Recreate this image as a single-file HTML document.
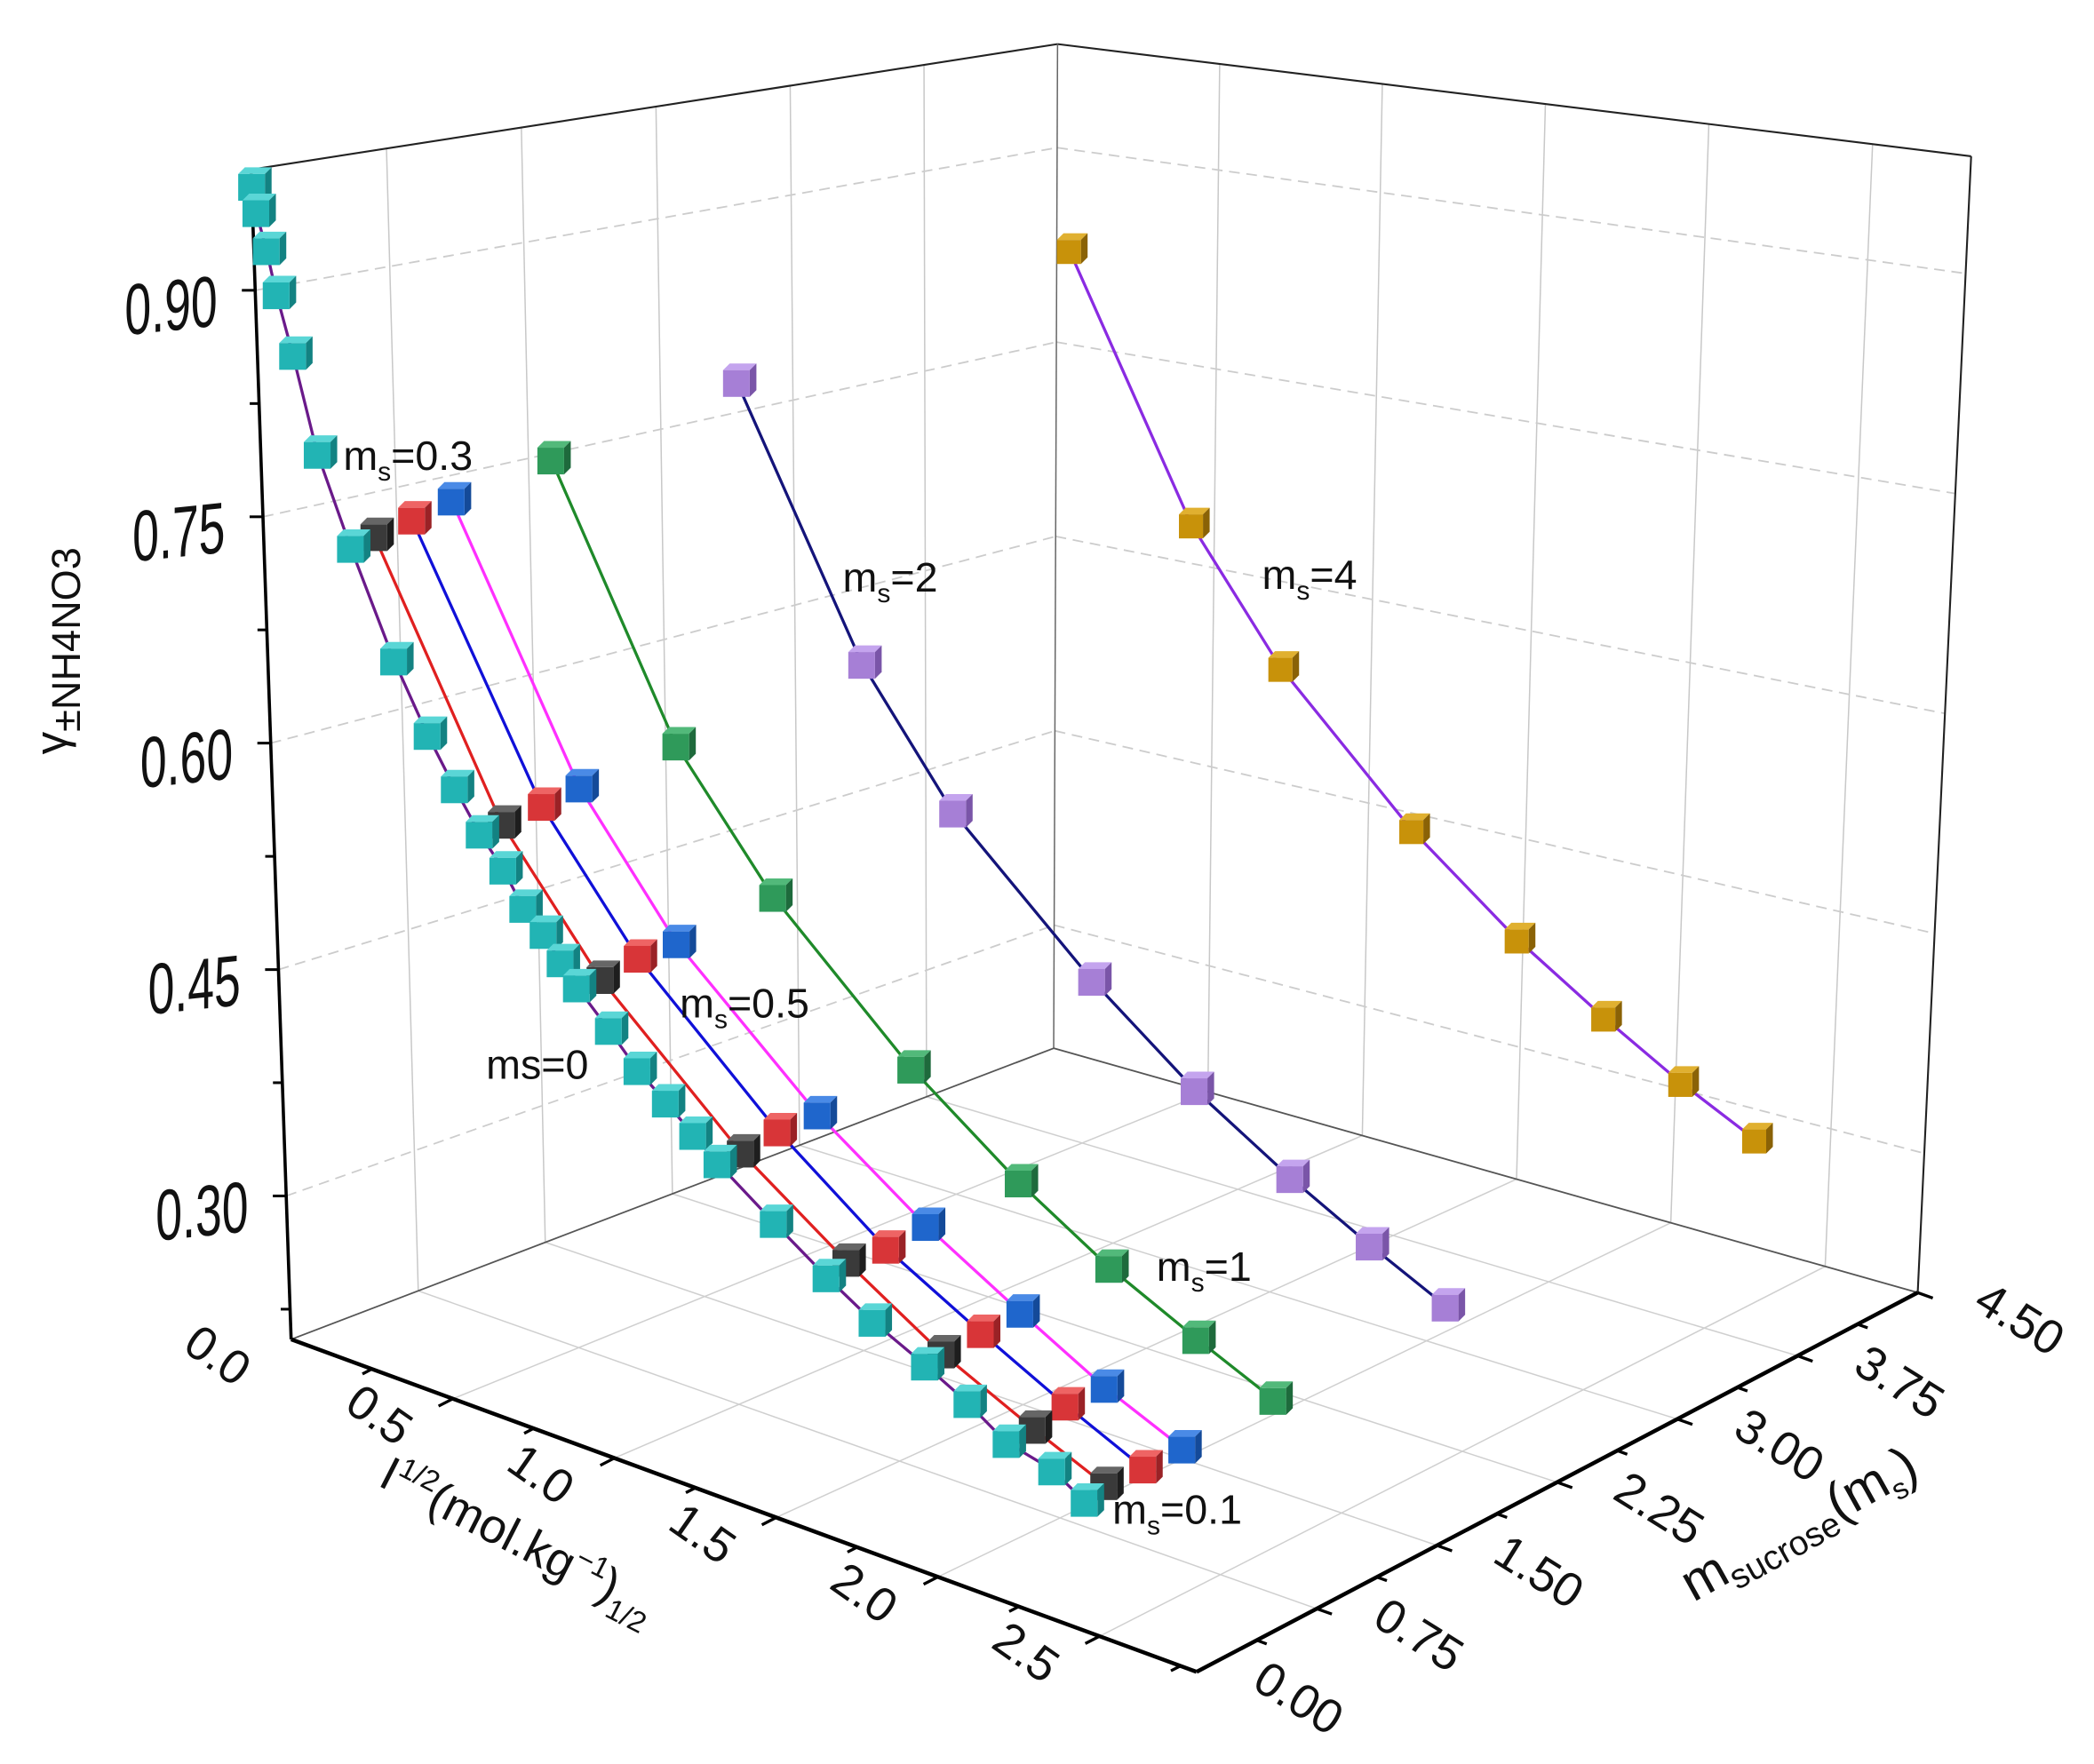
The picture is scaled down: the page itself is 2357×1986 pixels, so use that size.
<!DOCTYPE html>
<html><head><meta charset="utf-8"><style>
html,body{margin:0;padding:0;background:#fff}
svg{display:block}
text{font-family:"Liberation Sans",Arial,sans-serif;fill:#111}
</style></head><body>
<svg id="chart" width="2357" height="1986" viewBox="0 0 1568 1321" preserveAspectRatio="none" xmlns="http://www.w3.org/2000/svg">
<g id="grid"></g>
<g id="frame"></g>
<g id="series"></g>
<g id="labels"></g>
</svg>
<script>
// ---- data ----
const seriesMs = [4, 2, 1, 0.5, 0.3, 0.1, 0];
const xTicks = [0.0, 0.5, 1.0, 1.5, 2.0, 2.5];
const xTickLabels = ["0.0", "0.5", "1.0", "1.5", "2.0", "2.5"];
const mTicks = [0, 0.75, 1.5, 2.25, 3.0, 3.75, 4.5];
const mTickLabels = ["0.00", "0.75", "1.50", "2.25", "3.00", "3.75", "4.50"];
const gTicks = [0.30, 0.45, 0.60, 0.75, 0.90];
const gTickLabels = ["0.30", "0.45", "0.60", "0.75", "0.90"];

const xM0 = [0,0.01,0.037,0.062,0.105,0.169,0.26,0.38,0.475,0.553,0.625,0.694,0.752,0.812,0.862,0.91,1.005,1.09,1.175,1.257,1.33,1.50,1.66,1.80,1.96,2.09,2.21,2.35,2.45];
const gM0 = [0.970,0.953,0.929,0.901,0.863,0.801,0.744,0.677,0.634,0.604,0.579,0.560,0.539,0.526,0.511,0.498,0.477,0.457,0.442,0.427,0.414,0.388,0.365,0.347,0.331,0.317,0.301,0.294,0.282];
const xM01 = [0.278,0.64,0.93,1.35,1.67,1.96,2.24,2.46];
const gM01 = [0.750,0.583,0.501,0.418,0.371,0.334,0.307,0.288];
const xM03 = [0.286,0.657,0.94,1.36,1.69,1.98,2.24,2.48];
const gM03 = [0.756,0.589,0.508,0.424,0.372,0.339,0.312,0.290];
const xM05 = [0.30,0.667,0.955,1.38,1.71,2.0,2.26,2.50];
const gM05 = [0.764,0.595,0.511,0.428,0.379,0.344,0.315,0.294];
const xM1 = [0.336,0.70,0.99,1.41,1.74,2.02,2.29,2.53];
const gM1 = [0.780,0.608,0.525,0.439,0.387,0.351,0.324,0.302];
const xM2 = [0.367,0.742,1.02,1.45,1.77,2.07,2.32,2.56];
const gM2 = [0.808,0.632,0.546,0.458,0.405,0.366,0.338,0.314];
const xM4 = [0.31,0.695,0.98,1.40,1.74,2.02,2.27,2.51];
const gM4 = [0.847,0.660,0.569,0.474,0.415,0.376,0.345,0.320];

// ---- projection ----
const xMax=2.8, mMax=4.5, gMin=0.205, gMax=0.98;
const O={x:218,y:1003}, F={x:896,y:1252}, R={x:1436,y:968}, B={x:789,y:785};
const hO=876,hF=991,hR=851,hB=752;
const VP={x:731,y:15974};
function flr(x,m){const a=x/xMax,b=m/mMax;
  return {x:O.x+(F.x-O.x)*a+(B.x-O.x)*b+(O.x-F.x-B.x+R.x)*a*b,
          y:O.y+(F.y-O.y)*a+(B.y-O.y)*b+(O.y-F.y-B.y+R.y)*a*b};}
function hgt(x,m){const a=x/xMax,b=m/mMax;
  return hO*(1-a)*(1-b)+hF*a*(1-b)+hB*(1-a)*b+hR*a*b;}
function P(x,m,g){const s=flr(x,m);const h=hgt(x,m)*(g-gMin)/(gMax-gMin);
  const k=h/(VP.y-s.y);return {x:s.x+(s.x-VP.x)*k,y:s.y-h};}

const NS="http://www.w3.org/2000/svg";
function mk(parent,tag,attrs){const e=document.createElementNS(NS,tag);for(const k in attrs)e.setAttribute(k,attrs[k]);parent.appendChild(e);return e;}
function line(parent,p,q,stroke,w,dash){const l=mk(parent,'line',{x1:p.x.toFixed(1),y1:p.y.toFixed(1),x2:q.x.toFixed(1),y2:q.y.toFixed(1),stroke:stroke,'stroke-width':w});if(dash)l.setAttribute('stroke-dasharray',dash);return l;}

const grid=document.getElementById('grid'), frame=document.getElementById('frame'), ser=document.getElementById('series'), lab=document.getElementById('labels');

// grid: left wall (x=0), right wall (m=mMax), floor
for(const m of mTicks.slice(1,-1)){
  const l=line(grid,P(0,m,gMin),P(0,m,gMax),'#c8c8c8',1);
  
  
  const f=line(grid,flr(0,m),flr(xMax,m),'#cfcfcf',1);
  
  
}
for(const x of xTicks.slice(1)){
  const l=line(grid,P(x,mMax,gMin),P(x,mMax,gMax),'#c8c8c8',1);
  
  
  const f=line(grid,flr(x,0),flr(x,mMax),'#cfcfcf',1);
  
  
}
for(const g of gTicks){
  const a=line(grid,P(0,0,g),P(0,mMax,g),'#cccccc',1.2,'8,5');
  
  
  const b=line(grid,P(0,mMax,g),P(xMax,mMax,g),'#cccccc',1.2,'8,5');
  
  
}

// frame
[[P(0,0,gMax),P(0,mMax,gMax),'#222',1.4],[P(0,mMax,gMax),P(xMax,mMax,gMax),'#222',1.4],
 [P(0,mMax,gMin),P(0,mMax,gMax),'#666',1],[P(xMax,mMax,gMin),P(xMax,mMax,gMax),'#222',1.4],
 [flr(0,0),flr(0,mMax),'#555',1.2],[flr(0,mMax),flr(xMax,mMax),'#555',1.2]].forEach(d=>{
  const l=line(frame,d[0],d[1],d[2],d[3]);
  
  
});
const yAxis=line(frame,P(0,0,gMin),P(0,0,gMax),'#000',2.4);


const xAxis=line(frame,flr(0,0),flr(xMax,0),'#000',3);


const mAxis=line(frame,flr(xMax,0),flr(xMax,mMax),'#000',3);



// ticks
for(let g=0.225; g<0.98; g+=0.075){
  const p=P(0,0,g); const major=Math.abs(((g-0.30)/0.15)-Math.round((g-0.30)/0.15))<0.01;
  const t=line(frame,p,{x:p.x-(major?10:7),y:p.y},'#000',2);
  
  
}
for(let x=0.25; x<xMax; x+=0.25){
  const p=flr(x,0); const major=Math.abs(x*2-Math.round(x*2))<0.01;
  const L=major?12:8;
  const t=line(frame,p,{x:p.x-L*0.89,y:p.y+L*0.46},'#000',2.2);
  
  
}
for(let m=0.375; m<=mMax+0.01; m+=0.375){
  const p=flr(xMax,m); const major=Math.abs(m/0.75-Math.round(m/0.75))<0.01;
  const L=major?12:8;
  const t=line(frame,p,{x:p.x+L*0.94,y:p.y+L*0.34},'#000',2.2);
  
  
}

// tick labels
gTicks.forEach((g,i)=>{const p=P(0,0,g);
  const t=mk(lab,'text',{transform:`translate(${(p.x-63).toFixed(1)},${(p.y+30).toFixed(1)}) skewY(-6) scale(0.66,1)`,'font-size':54,'text-anchor':'middle'});
  t.textContent=gTickLabels[i];
  
  
});
xTicks.forEach((x,i)=>{const p=flr(x,0);
  const t=mk(lab,'text',{transform:`translate(${(p.x-62).toFixed(1)},${(p.y+22).toFixed(1)}) rotate(35)`,'font-size':36,'text-anchor':'middle'});
  t.textContent=xTickLabels[i];
  
  
});
mTicks.forEach((m,i)=>{const p=flr(xMax,m);
  const t=mk(lab,'text',{transform:`translate(${(p.x+70).toFixed(1)},${(p.y+30).toFixed(1)}) rotate(32)`,'font-size':36,'text-anchor':'middle'});
  t.textContent=mTickLabels[i];
  
  
});

// series
const seriesX=[xM4,xM2,xM1,xM05,xM03,xM01,xM0];
const seriesG=[gM4,gM2,gM1,gM05,gM03,gM01,gM0];
const lineColors=['#8a2be2','#14147a','#1f8a2a','#ff30ff','#1010d8','#e02020','#6a1a8a'];
const faceColors=['#c8920a','#a67fd6','#2f9a5a','#1f66cc','#d83538','#3a3a3a','#22b4b4'];
const topColors=['#e0b030','#c4a4ee','#52b97a','#4a8ae6','#ee6464','#666666','#5ad6d6'];
const sideColors=['#8a6206','#7a55a8','#1e6a3c','#144a99','#9a2226','#1e1e1e','#138282'];
const msz=[9,10,10,10,10,10,10];
seriesMs.forEach((m,si)=>{
  const g=mk(ser,'g',{});
  
  
  const pts=seriesX[si].map((x,i)=>P(x,m,seriesG[si][i]));
  const pl=mk(g,'polyline',{points:pts.map(p=>p.x.toFixed(1)+','+p.y.toFixed(1)).join(' '),fill:'none',stroke:lineColors[si],'stroke-width':2.2});
  
  
  pts.forEach(p=>{
    const s=msz[si];
    const c=mk(g,'g',{});
    
    
    mk(c,'polygon',{points:`${p.x-s},${p.y-s+2} ${p.x-s+5},${p.y-s-3} ${p.x+s+5},${p.y-s-3} ${p.x+s},${p.y-s+2}`,fill:topColors[si]});
    mk(c,'polygon',{points:`${p.x+s},${p.y-s+2} ${p.x+s+5},${p.y-s-3} ${p.x+s+5},${p.y+s-3} ${p.x+s},${p.y+s+2}`,fill:sideColors[si]});
    mk(c,'rect',{x:p.x-s,y:p.y-s+2,width:2*s,height:2*s,fill:faceColors[si]});
  });
});
</script>
<svg style="position:absolute;left:0;top:0" width="2357" height="1986" viewBox="0 0 1568 1321" preserveAspectRatio="none" xmlns="http://www.w3.org/2000/svg">
<text transform="translate(50,565) rotate(-90)" font-size="34">γ<tspan font-size="30" dy="10">±NH4NO3</tspan></text>
<text transform="translate(282,1112) rotate(27)" font-size="36">I<tspan font-size="22" dy="-14">1/2</tspan><tspan dy="14">(mol.kg</tspan><tspan font-size="22" dy="-14">−1</tspan><tspan dy="14">)</tspan><tspan font-size="22" dy="10">1/2</tspan></text>
<text transform="translate(1268,1200) rotate(-29)" font-size="40">m<tspan font-size="26" dy="8">sucrose</tspan><tspan dy="-8">(m</tspan><tspan font-size="22" dy="8">s</tspan><tspan dy="-8">)</tspan></text>
<text x="364" y="808" font-size="31">ms=0</text>
<text x="833" y="1141" font-size="31">m<tspan font-size="20" dy="8">s</tspan><tspan dy="-8">=0.1</tspan></text>
<text x="257" y="352" font-size="31">m<tspan font-size="20" dy="8">s</tspan><tspan dy="-8">=0.3</tspan></text>
<text x="509" y="762" font-size="31">m<tspan font-size="20" dy="8">s</tspan><tspan dy="-8">=0.5</tspan></text>
<text x="866" y="959" font-size="31">m<tspan font-size="20" dy="8">s</tspan><tspan dy="-8">=1</tspan></text>
<text x="631" y="443" font-size="31">m<tspan font-size="20" dy="8">s</tspan><tspan dy="-8">=2</tspan></text>
<text x="945" y="441" font-size="31">m<tspan font-size="20" dy="8">s</tspan><tspan dy="-8">=4</tspan></text>
</svg>
</body></html>
